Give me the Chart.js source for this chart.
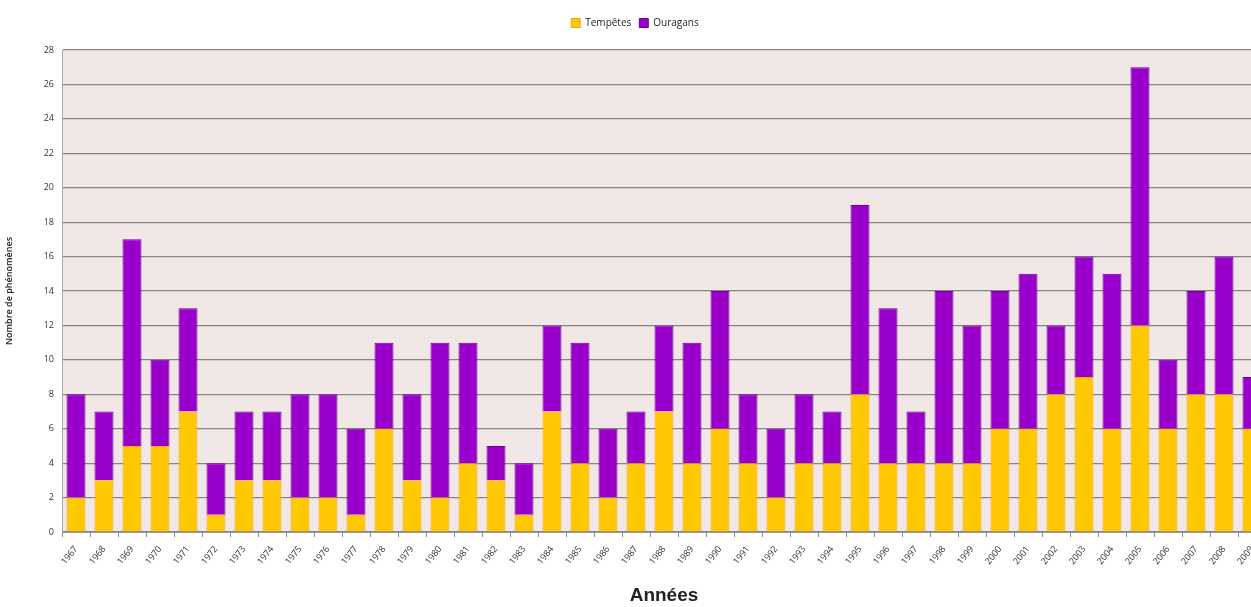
<!DOCTYPE html>
<html>
<head>
<meta charset="utf-8">
<script src="https://cdn.jsdelivr.net/npm/chart.js@4/dist/chart.umd.min.js"></script>
<style>
  html, body { margin: 0; padding: 0; background: #fff; overflow: hidden; }
  #wrap { width: 1280px; height: 607px; }
</style>
</head>
<body>
<div id="wrap"><canvas id="bars"></canvas></div>
<script>
const years = [];
for (let y = 1967; y <= 2009; y++) years.push(String(y));

const tempetes = [2, 3, 5, 5, 7, 1, 3, 3, 2, 2, 1, 6, 3, 2, 4, 3, 1, 7, 4, 2, 4, 7, 4, 6, 4, 2, 4, 4,
  8, 4, 4, 4, 4, 6, 6, 8, 9, 6, 12, 6, 8, 8, 6];
const ouragans = [6, 4, 12, 5, 6, 3, 4, 4, 6, 6, 5, 5, 5, 9, 7, 2, 3, 5, 7, 4, 3, 5, 7, 8, 4, 4, 4, 3,
  11, 9, 3, 10, 8, 8, 9, 4, 7, 9, 15, 4, 6, 8, 3];

const yTicks = [0, 2, 4, 6, 8, 10, 12, 14, 16, 18, 20, 22, 24, 26, 28];

// light pink plot area
const plotBg = {
  id: "plotBg",
  beforeDraw(c) {
    const a = c.chartArea, ctx = c.ctx;
    ctx.save();
    ctx.fillStyle = "#f2e7e7";
    ctx.fillRect(a.left, a.top, a.right - a.left, a.bottom - a.top);
    ctx.restore();
  }
};

// leave more room under the legend
const legendGap = {
  id: "legendGap",
  beforeInit(c) {
    const fit = c.legend.fit;
    c.legend.fit = function () {
      fit.call(this);
      this.height += 12;
    };
  }
};

const chart = new Chart(document.getElementById("bars").getContext("2d"), {
  type: "bar",
  data: {
    labels: years,
    datasets: [
      {
        label: "Tempêtes",
        data: tempetes,
        backgroundColor: "rgb(255,200,0)",
        borderColor: "rgb(245,160,20)",
        borderWidth: 1
      },
      {
        label: "Ouragans",
        data: ouragans,
        backgroundColor: "rgb(153,0,204)",
        borderColor: "rgb(110,0,150)",
        borderWidth: 1
      }
    ]
  },
  options: {
    responsive: true,
    maintainAspectRatio: false,
    animation: false,
    layout: { padding: { left: 4, right: 14, top: 10, bottom: 0 } },
    datasets: { bar: { categoryPercentage: 1, barPercentage: 0.68 } },
    plugins: {
      legend: {
        position: "top",
        labels: {
          boxWidth: 9, boxHeight: 9, padding: 8,
          color: "#222",
          font: { family: "Open Sans", size: 10 }
        }
      },
      tooltip: { enabled: false }
    },
    scales: {
      x: {
        stacked: true,
        grid: { drawOnChartArea: false, drawTicks: true, tickLength: 5, color: "#888" },
        border: { color: "#999", width: 1 },
        ticks: {
          maxRotation: 52, minRotation: 52, autoSkip: false,
          color: "#333", padding: 7,
          font: { family: "Open Sans", size: 9 }
        },
        title: {
          display: true, text: "Années", color: "#222",
          font: { family: "Liberation Sans", size: 19, weight: "bold" },
          padding: { top: 4, bottom: 0 }
        },
        afterFit(s) { s.height = 75; }
      },
      y: {
        stacked: true,
        min: 0, max: 28,
        afterBuildTicks(s) { s.ticks = yTicks.map(v => ({ value: v })); },
        grid: { color: "#858585", lineWidth: 1.2, drawTicks: false },
        border: { color: "#aaa", width: 1 },
        ticks: {
          color: "#333", padding: 8,
          font: { family: "Open Sans", size: 9 }
        },
        title: {
          display: true, text: "Nombre de phénomènes", color: "#222",
          font: { family: "Open Sans", size: 9, weight: "600" },
          padding: { top: 0, bottom: 6 }
        },
        afterFit(s) { s.width = 58; }
      }
    }
  },
  plugins: [plotBg, legendGap]
});
</script>
</body>
</html>
